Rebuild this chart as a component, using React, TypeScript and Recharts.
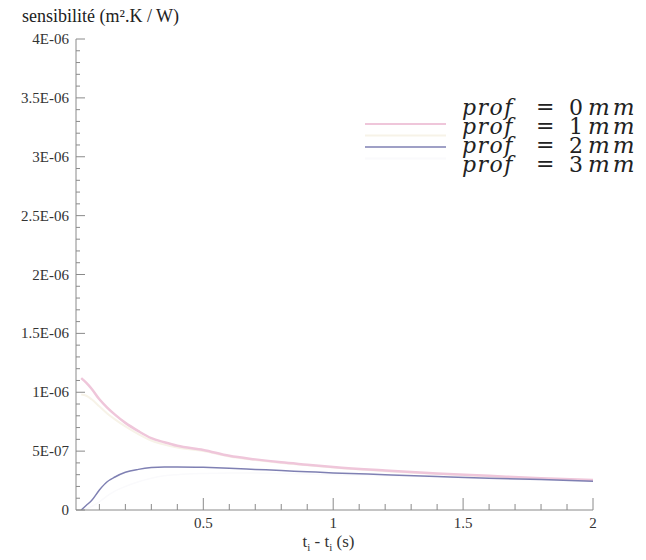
import React from "react";
import { LineChart, Line, XAxis, YAxis } from "recharts";

// time (s)
const times = [0.03, 0.05, 0.07, 0.1, 0.13, 0.16, 0.2, 0.25, 0.3, 0.35, 0.4, 0.5, 0.6, 0.7, 0.8, 0.9, 1.0, 1.2, 1.4, 1.6, 1.8, 2.0];

// sensitivities (m².K / W)
const prof0 = [1.12e-6, 1.08e-6, 1.03e-6, 0.94e-6, 0.87e-6, 0.81e-6, 0.74e-6, 0.67e-6, 0.61e-6, 0.575e-6, 0.545e-6, 0.51e-6, 0.46e-6, 0.43e-6, 0.405e-6, 0.385e-6, 0.365e-6, 0.335e-6, 0.31e-6, 0.29e-6, 0.27e-6, 0.255e-6];
const prof1 = [0.98e-6, 0.97e-6, 0.94e-6, 0.88e-6, 0.82e-6, 0.77e-6, 0.71e-6, 0.645e-6, 0.59e-6, 0.555e-6, 0.53e-6, 0.5e-6, 0.455e-6, 0.425e-6, 0.4e-6, 0.38e-6, 0.36e-6, 0.33e-6, 0.305e-6, 0.285e-6, 0.268e-6, 0.252e-6];
const prof2 = [0, 0.04e-6, 0.08e-6, 0.17e-6, 0.24e-6, 0.28e-6, 0.32e-6, 0.345e-6, 0.36e-6, 0.365e-6, 0.365e-6, 0.362e-6, 0.355e-6, 0.345e-6, 0.335e-6, 0.325e-6, 0.315e-6, 0.3e-6, 0.285e-6, 0.27e-6, 0.258e-6, 0.245e-6];
const prof3 = [0, 0.01e-6, 0.03e-6, 0.07e-6, 0.12e-6, 0.16e-6, 0.2e-6, 0.24e-6, 0.27e-6, 0.29e-6, 0.3e-6, 0.31e-6, 0.315e-6, 0.315e-6, 0.31e-6, 0.305e-6, 0.3e-6, 0.29e-6, 0.28e-6, 0.265e-6, 0.255e-6, 0.243e-6];

const seriesNames = ["0", "1", "2", "3"];
const seriesColors = ["#efc6da", "#f7f3e8", "#7f80b3", "#fafafc"];

const xMajorTicks = [0.5, 1, 1.5, 2];
const xMajorLabels = ["0.5", "1", "1.5", "2"];
const yMajorTicks = [0, 5e-7, 1e-6, 1.5e-6, 2e-6, 2.5e-6, 3e-6, 3.5e-6, 4e-6];
const yMajorLabels = ["0", "5E-07", "1E-06", "1.5E-06", "2E-06", "2.5E-06", "3E-06", "3.5E-06", "4E-06"];

const xAllTicks: number[] = [];
for (let i = 1; i <= 20; i++) xAllTicks.push(Math.round(i * 10) / 100);
const yAllTicks: number[] = [];
for (let i = 0; i <= 40; i++) yAllTicks.push(i * 1e-7);

const data = times.map((t, i) => ({
  t,
  p0: prof0[i],
  p1: prof1[i],
  p2: prof2[i],
  p3: prof3[i],
}));

const font = "DejaVu Serif, Liberation Serif, serif";
const tickFont = "Liberation Serif, DejaVu Serif, serif";
const axisColor = "#8a8a8a";

const XTick = ({ x, y, payload }: any) => {
  const idx = xMajorTicks.findIndex((v) => Math.abs(v - payload.value) < 1e-6);
  const major = idx >= 0;
  return (
    <g>
      <line x1={x} x2={x} y1={y} y2={y - (major ? 12 : 6)} stroke={axisColor} />
      {major && (
        <text x={x} y={y + 18} textAnchor="middle" fontSize={15} fontFamily={tickFont} fill="#333">
          {xMajorLabels[idx]}
        </text>
      )}
    </g>
  );
};

const YTick = ({ x, y, payload }: any) => {
  const idx = yMajorTicks.findIndex((v) => Math.abs(v - payload.value) < 1e-9);
  const major = idx >= 0;
  return (
    <g>
      <line x1={x} x2={x + (major ? 9 : 4)} y1={y} y2={y} stroke={axisColor} />
      {major && (
        <text x={x - 7} y={y + 5} textAnchor="end" fontSize={15} fontFamily={tickFont} fill="#333">
          {yMajorLabels[idx]}
        </text>
      )}
    </g>
  );
};

// legend drawn over the chart, top-right
const LegendBox = () => {
  const lineY = [34, 45.5, 57, 68.5];
  const textY = [25, 44, 63, 82];
  return (
    <svg width={284} height={95} style={{ position: "absolute", left: 360, top: 90 }}>
      {seriesNames.map((n, i) => (
        <g key={n}>
          <line x1={5} x2={86} y1={lineY[i]} y2={lineY[i]} stroke={seriesColors[i]} strokeWidth={i === 2 ? 1.5 : 2} />
          <text x={102} y={textY[i]} fontSize={22} fontFamily={font} fontStyle="italic" letterSpacing={1.5} fill="#222">
            prof
          </text>
          <text x={176} y={textY[i] - 1} fontSize={22} fontFamily={font} fill="#222">=</text>
          <text x={209} y={textY[i]} fontSize={22} fontFamily={font} fill="#222">{n}</text>
          <text x={228} y={textY[i]} fontSize={23} fontFamily={font} fontStyle="italic" letterSpacing={3} fill="#222">
            mm
          </text>
        </g>
      ))}
    </svg>
  );
};

export default function App() {
  return (
    <div style={{ position: "absolute", left: 0, top: 0, width: 646, height: 560, background: "#fff" }}>
      <LineChart width={646} height={560} data={data} margin={{ top: 39, right: 53, bottom: 20, left: 6 }}>
        <XAxis
          dataKey="t"
          type="number"
          domain={[0.01, 2]}
          ticks={xAllTicks}
          interval={0}
          allowDataOverflow
          height={30}
          stroke={axisColor}
          tickLine={false}
          tickSize={0}
          tickMargin={0}
          tick={<XTick />}
          label={({ viewBox }: any) => (
            <text x={viewBox.x + viewBox.width / 2 - 6} y={viewBox.y + 37} textAnchor="middle" fontSize={17} fontFamily={tickFont} fill="#333">
              t<tspan fontSize={11} dy={4}>i</tspan>
              <tspan dy={-4}> - t</tspan>
              <tspan fontSize={11} dy={4}>i</tspan>
              <tspan dy={-4}> (s)</tspan>
            </text>
          )}
        />
        <YAxis
          type="number"
          domain={[0, 4e-6]}
          ticks={yAllTicks}
          interval={0}
          allowDataOverflow
          width={70}
          stroke={axisColor}
          tickLine={false}
          tickSize={0}
          tickMargin={0}
          tick={<YTick />}
          label={({ viewBox }: any) => (
            <text x={viewBox.x + 16} y={viewBox.y - 17} fontSize={18} fontFamily={tickFont} fill="#222">
              sensibilité (m².K / W)
            </text>
          )}
        />
        <Line dataKey="p3" name="prof = 3 mm" stroke={seriesColors[3]} strokeWidth={1.5} dot={false} isAnimationActive={false} type="monotone" />
        <Line dataKey="p1" name="prof = 1 mm" stroke={seriesColors[1]} strokeWidth={2} dot={false} isAnimationActive={false} type="monotone" />
        <Line dataKey="p0" name="prof = 0 mm" stroke={seriesColors[0]} strokeWidth={2.5} dot={false} isAnimationActive={false} type="monotone" />
        <Line dataKey="p2" name="prof = 2 mm" stroke={seriesColors[2]} strokeWidth={1.5} dot={false} isAnimationActive={false} type="monotone" />
      </LineChart>
      <LegendBox />
    </div>
  );
}
